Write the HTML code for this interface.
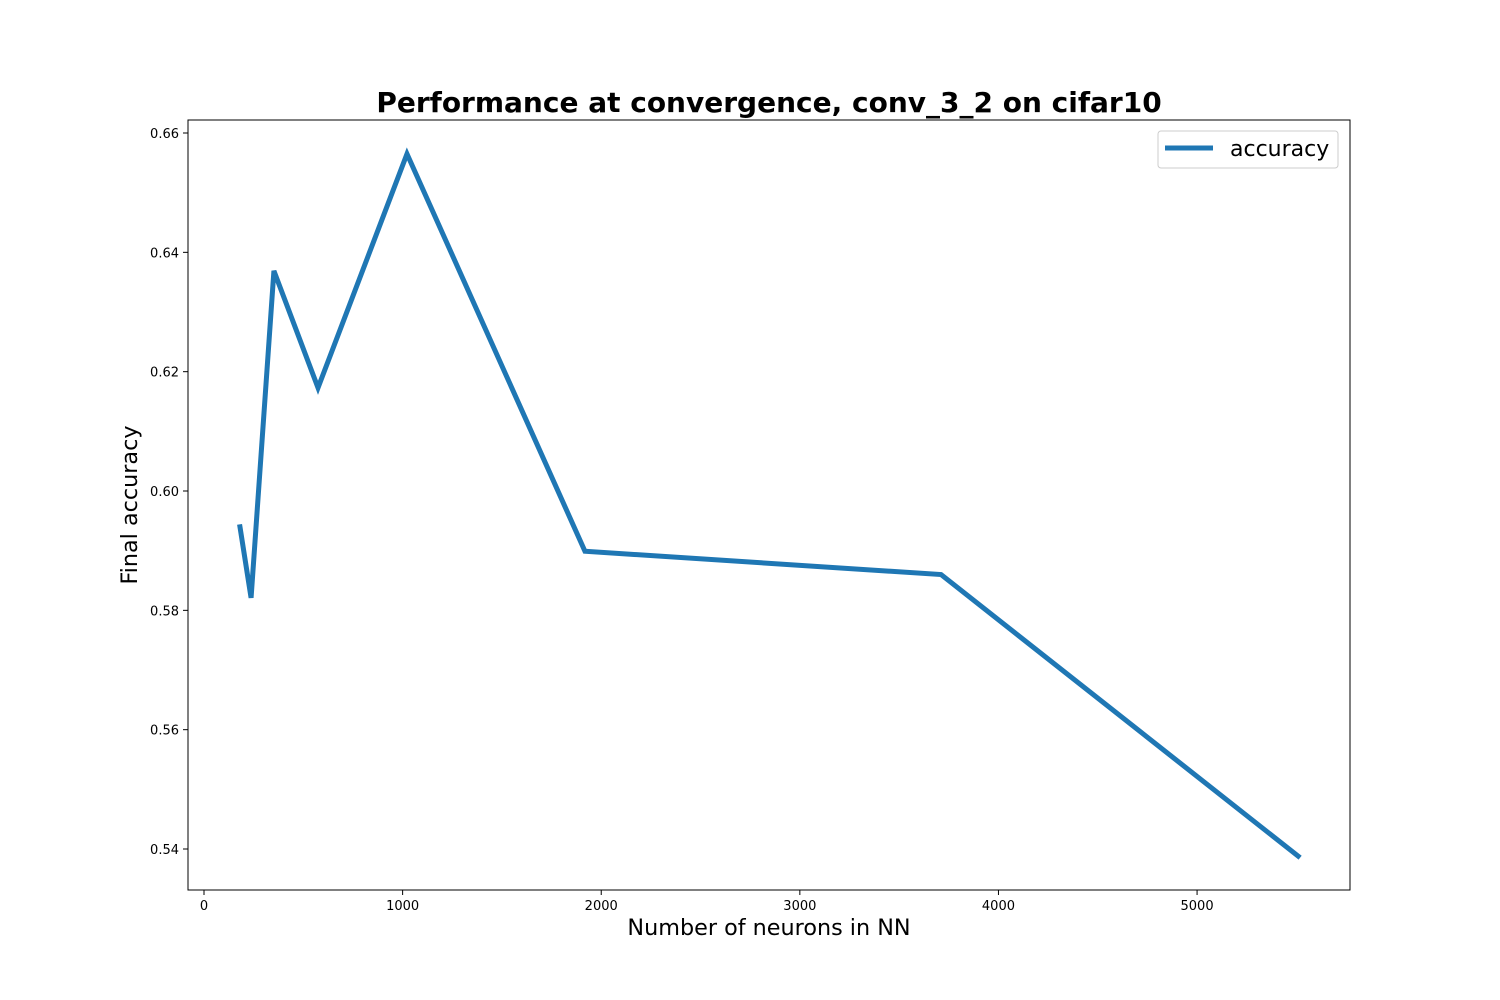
<!DOCTYPE html>
<html><head><meta charset="utf-8"><style>body{margin:0;background:#fff}svg{display:block}text{font-family:"DejaVu Sans","Liberation Sans",sans-serif}</style></head>
<body>
<svg id="chart" width="1500" height="1000" xmlns="http://www.w3.org/2000/svg">
<rect width="1500" height="1000" fill="#fff"/>
<text x="769" y="112" text-anchor="middle" font-size="28" font-weight="bold">Performance at convergence, conv_3_2 on cifar10</text>
<text x="769" y="935" text-anchor="middle" font-size="22.3">Number of neurons in NN</text>
<text transform="translate(137,505) rotate(-90)" text-anchor="middle" font-size="22.3">Final accuracy</text>
<g id="ticks"></g>
<path id="line" fill="none" stroke="#1f77b4" stroke-width="5" stroke-linejoin="miter" stroke-linecap="square"/>
<rect x="188" y="120" width="1162" height="770" fill="none" stroke="#000" stroke-width="1"/>
<g>
<rect x="1158" y="131" width="180" height="37" rx="3" fill="#fff" fill-opacity="0.8" stroke="#ccc"/>
<line x1="1165" y1="148" x2="1213" y2="148" stroke="#1f77b4" stroke-width="5"/>
<text x="1230" y="156" font-size="22">accuracy</text>
</g>
</svg>
<script>
const neurons=[181,237,352,574,1022,1918,3711,5509];
const accuracy=[0.594,0.5821,0.6369,0.6173,0.6565,0.5899,0.586,0.5388];
const xTicks=[0,1000,2000,3000,4000,5000];
const yTicks=[0.54,0.56,0.58,0.60,0.62,0.64,0.66];
const X0=188,X1=1350,Y0=890,Y1=120,xmin=-80.6,xmax=5770,ymin=0.53313,ymax=0.66218;
const sx=v=>X0+(v-xmin)/(xmax-xmin)*(X1-X0);
const sy=v=>Y0-(v-ymin)/(ymax-ymin)*(Y0-Y1);
const NS="http://www.w3.org/2000/svg",g=document.getElementById('ticks');
function mk(t,a){const e=document.createElementNS(NS,t);for(const k in a)e.setAttribute(k,a[k]);g.appendChild(e);return e;}
xTicks.forEach(v=>{const x=sx(v);
const l=mk('line',{x1:x,x2:x,y1:Y0,y2:Y0+5,stroke:'#000'});


const t=mk('text',{x:x,y:Y0+20,'text-anchor':'middle','font-size':13});t.textContent=v;

});
yTicks.forEach(v=>{const y=sy(v);
const l=mk('line',{x1:X0-5,x2:X0,y1:y,y2:y,stroke:'#000'});


const t=mk('text',{x:X0-9,y:y+5,'text-anchor':'end','font-size':13});t.textContent=v.toFixed(2);

});
document.getElementById('line').setAttribute('d',neurons.map((n,i)=>(i?'L':'M')+sx(n)+' '+sy(accuracy[i])).join(' '));
</script>
</body></html>
